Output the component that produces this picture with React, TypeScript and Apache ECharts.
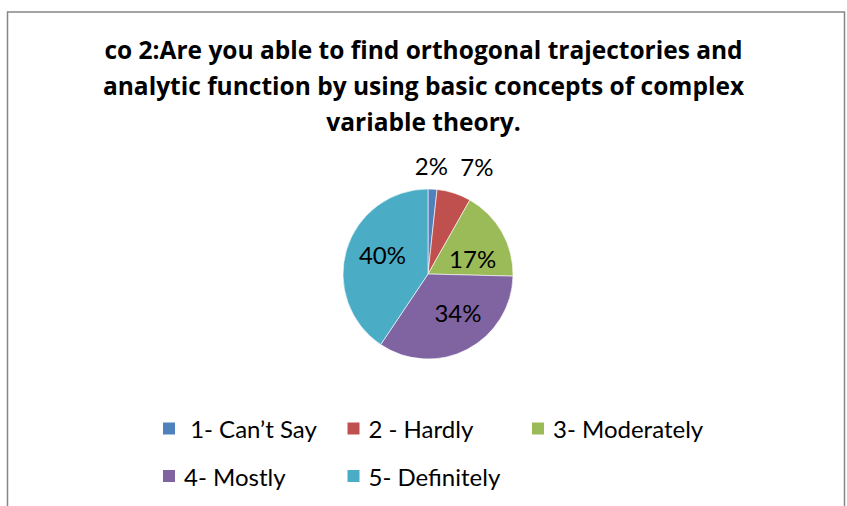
import React, { useEffect, useRef } from "react";
import * as echarts from "echarts";

const titleText =
  "co 2:Are you able to find orthogonal trajectories and\nanalytic function by using basic concepts of complex\nvariable theory.";
const categories = [" 1- Can\u2019t Say", "2 - Hardly", "3- Moderately", "4- Mostly", "5- Definitely"];
const values = [1.7, 6.5, 17.2, 34.0, 40.6];
const labelTexts = ["2%", "7%", "17%", "34%", "40%"];
const colors = ["#4F81BD", "#C0504D", "#9BBB59", "#8064A2", "#4BACC6"];
const labelOffsets = [
  [1, -63],
  [35, -64],
  [5, 7],
  [9, -2],
  [-2, -6],
];

export default function App() {
  const ref = useRef<HTMLDivElement>(null);
  useEffect(() => {
    if (!ref.current) return;
    const chart = echarts.init(ref.current, null, { renderer: "svg" });
    chart.setOption({
      animation: false,
      backgroundColor: "#ffffff",
      color: colors,
      title: {
        text: titleText,
        left: "center",
        top: 31,
        padding: [0, 0, 0, 6],
        textStyle: {
          fontFamily: "Open Sans",
          fontWeight: "bold",
          fontSize: 24.5,
          lineHeight: 36,
          color: "#000",
        },
      },
      graphic: [
        {
          type: "rect",
          shape: { x: 7.5, y: 12, width: 837, height: 530 },
          style: { fill: "none", stroke: "#868686", lineWidth: 1.5 },
          silent: true,
        },
      ],
      legend: {
        left: 161,
        top: 413,
        width: 570,
        padding: 0,
        itemWidth: 14,
        itemHeight: 14,
        itemGap: 16.5,
        icon: "rect",
        data: categories,
        textStyle: {
          fontFamily: "Lato",
          fontSize: 24,
          color: "#000",
          width: 145,
          lineHeight: 31,
          padding: [0, 0, 0, 3],
        },
      },
      series: [
        {
          type: "pie",
          center: [428, 274],
          radius: 85,
          startAngle: 90,
          clockwise: true,
          avoidLabelOverlap: false,
          itemStyle: { borderColor: "#ffffff", borderWidth: 0.6 },
          label: {
            show: true,
            position: "inside",
            fontFamily: "Lato",
            fontSize: 24,
            color: "#000",
            formatter: (p: any) => labelTexts[p.dataIndex],
          },
          labelLine: { show: false },
          labelLayout: (p: any) => ({
            dx: labelOffsets[p.dataIndex][0],
            dy: labelOffsets[p.dataIndex][1],
          }),
          data: categories.map((name, i) => ({ name, value: values[i] })),
        },
      ],
    });
    return () => chart.dispose();
  }, []);
  return (
    <div
      ref={ref}
      style={{ position: "absolute", left: 0, top: 0, width: 847, height: 506 }}
    />
  );
}
